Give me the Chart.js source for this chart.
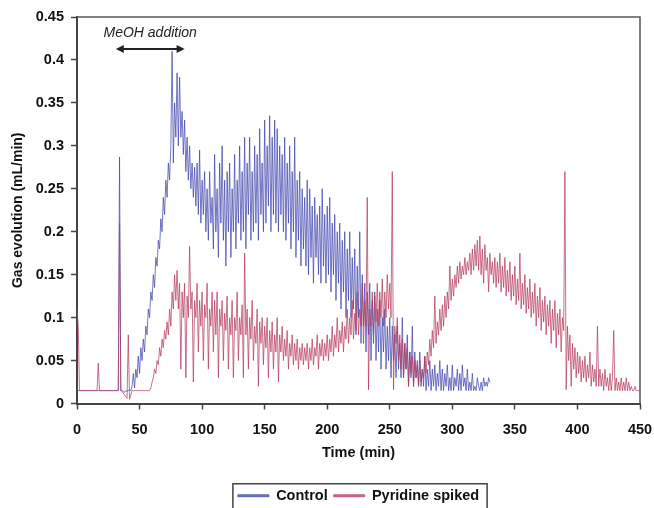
<!DOCTYPE html>
<html>
<head>
<meta charset="utf-8">
<script src="https://cdn.jsdelivr.net/npm/chart.js@4.4.1/dist/chart.umd.min.js"></script>
<style>
html,body{margin:0;padding:0;background:#fff;}
#wrap{width:654px;height:508px;position:relative;overflow:hidden;}
</style>
</head>
<body>
<div id="wrap"><canvas id="c" width="654" height="508"></canvas></div>
<script>
// Sampling: one reading per minute, starting at t = 0 min
const timeStartMin = 0;
const timeStepMin = 1;

const seriesNames = ["Control", "Pyridine spiked"];

// Control gas evolution (mL/min), t = 0..330 min
const controlValues = [
/*0*/   0.015,0.015,0.015,0.015,0.015,0.015,0.015,0.015,0.015,0.015,
/*10*/  0.015,0.015,0.015,0.015,0.015,0.015,0.015,0.015,0.015,0.015,
/*20*/  0.015,0.015,0.015,0.015,0.015,0.015,0.015,0.015,0.015,0.015,
/*30*/  0.015,0.015,0.015,0.015,0.287,0.015,0.015,0.014,0.013,0.015,
/*40*/  0.014,0.015,0.016,0.015,0.02,0.035,0.018,0.04,0.03,0.055,
/*50*/  0.035,0.065,0.05,0.075,0.06,0.09,0.08,0.11,0.1,0.13,
/*60*/  0.12,0.15,0.135,0.17,0.16,0.19,0.18,0.215,0.2,0.24,
/*70*/  0.22,0.26,0.24,0.28,0.26,0.3,0.41,0.28,0.35,0.31,
/*80*/  0.385,0.3,0.38,0.31,0.34,0.29,0.33,0.27,0.31,0.26,
/*90*/  0.3,0.25,0.28,0.24,0.275,0.23,0.28,0.22,0.295,0.21,
/*100*/ 0.26,0.22,0.27,0.2,0.25,0.19,0.27,0.21,0.24,0.18,
/*110*/ 0.29,0.2,0.25,0.17,0.28,0.21,0.3,0.19,0.26,0.16,
/*120*/ 0.27,0.2,0.28,0.17,0.25,0.2,0.29,0.18,0.26,0.21,
/*130*/ 0.3,0.19,0.27,0.2,0.31,0.18,0.28,0.22,0.31,0.19,
/*140*/ 0.27,0.2,0.3,0.21,0.29,0.19,0.32,0.22,0.28,0.2,
/*150*/ 0.33,0.21,0.3,0.23,0.335,0.2,0.31,0.22,0.33,0.21,
/*160*/ 0.32,0.2,0.3,0.22,0.29,0.2,0.31,0.19,0.28,0.21,
/*170*/ 0.3,0.18,0.27,0.2,0.31,0.17,0.26,0.19,0.27,0.16,
/*180*/ 0.25,0.18,0.24,0.16,0.26,0.15,0.25,0.17,0.23,0.14,
/*190*/ 0.24,0.17,0.22,0.15,0.23,0.14,0.25,0.16,0.22,0.14,
/*200*/ 0.23,0.15,0.24,0.13,0.21,0.15,0.22,0.12,0.2,0.14,
/*210*/ 0.21,0.11,0.19,0.13,0.2,0.1,0.18,0.12,0.2,0.1,
/*220*/ 0.17,0.11,0.18,0.08,0.16,0.1,0.2,0.07,0.15,0.09,
/*230*/ 0.14,0.06,0.13,0.08,0.14,0.05,0.12,0.07,0.13,0.05,
/*240*/ 0.11,0.06,0.12,0.04,0.1,0.06,0.11,0.04,0.09,0.05,
/*250*/ 0.1,0.03,0.09,0.05,0.08,0.03,0.09,0.04,0.07,0.03,
/*260*/ 0.1,0.03,0.07,0.04,0.08,0.02,0.06,0.03,0.09,0.02,
/*270*/ 0.06,0.03,0.05,0.02,0.06,0.02,0.04,0.02,0.055,0.015,
/*280*/ 0.04,0.02,0.05,0.015,0.04,0.02,0.045,0.015,0.035,0.02,
/*290*/ 0.05,0.015,0.04,0.015,0.035,0.02,0.045,0.015,0.03,0.015,
/*300*/ 0.045,0.015,0.03,0.02,0.04,0.015,0.035,0.015,0.045,0.02,
/*310*/ 0.03,0.015,0.04,0.015,0.025,0.015,0.035,0.015,0.02,0.015,
/*320*/ 0.03,0.02,0.015,0.025,0.015,0.03,0.02,0.025,0.02,0.03,
/*330*/ 0.025
];

// Pyridine spiked gas evolution (mL/min), t = 0..450 min
const pyridineValues = [
/*0*/   0.11,0.09,0.015,0.015,0.015,0.015,0.015,0.015,0.015,0.015,
/*10*/  0.015,0.015,0.015,0.015,0.015,0.015,0.015,0.047,0.015,0.015,
/*20*/  0.015,0.015,0.015,0.015,0.015,0.015,0.015,0.015,0.015,0.015,
/*30*/  0.015,0.015,0.015,0.015,0.21,0.015,0.014,0.012,0.01,0.008,
/*40*/  0.006,0.08,0.005,0.01,0.015,0.015,0.015,0.015,0.015,0.015,
/*50*/  0.015,0.015,0.015,0.015,0.015,0.015,0.015,0.015,0.015,0.018,
/*60*/  0.025,0.03,0.04,0.035,0.05,0.045,0.065,0.055,0.075,0.065,
/*70*/  0.085,0.075,0.095,0.08,0.11,0.09,0.13,0.11,0.15,0.12,
/*80*/  0.155,0.11,0.14,0.04,0.13,0.1,0.14,0.03,0.125,0.1,
/*90*/  0.183,0.11,0.13,0.025,0.12,0.1,0.14,0.06,0.12,0.09,
/*100*/ 0.13,0.05,0.115,0.1,0.14,0.04,0.11,0.09,0.13,0.06,
/*110*/ 0.12,0.08,0.13,0.03,0.11,0.09,0.12,0.05,0.105,0.085,
/*120*/ 0.125,0.04,0.1,0.08,0.12,0.03,0.1,0.085,0.13,0.05,
/*130*/ 0.1,0.08,0.115,0.03,0.175,0.08,0.11,0.04,0.1,0.075,
/*140*/ 0.12,0.05,0.09,0.07,0.11,0.02,0.095,0.07,0.1,0.045,
/*150*/ 0.09,0.065,0.1,0.03,0.085,0.06,0.095,0.04,0.08,0.06,
/*160*/ 0.1,0.025,0.08,0.06,0.09,0.05,0.075,0.055,0.085,0.04,
/*170*/ 0.07,0.055,0.08,0.045,0.07,0.05,0.075,0.04,0.065,0.05,
/*180*/ 0.07,0.045,0.065,0.05,0.07,0.04,0.065,0.05,0.075,0.045,
/*190*/ 0.065,0.055,0.08,0.04,0.07,0.055,0.075,0.05,0.07,0.055,
/*200*/ 0.08,0.05,0.075,0.06,0.09,0.055,0.08,0.065,0.1,0.06,
/*210*/ 0.085,0.07,0.095,0.06,0.09,0.075,0.11,0.07,0.1,0.08,
/*220*/ 0.12,0.075,0.105,0.085,0.13,0.08,0.11,0.09,0.14,0.07,
/*230*/ 0.12,0.09,0.24,0.016,0.11,0.09,0.13,0.08,0.125,0.095,
/*240*/ 0.14,0.09,0.13,0.1,0.145,0.09,0.13,0.1,0.15,0.11,
/*250*/ 0.14,0.1,0.27,0.016,0.09,0.07,0.1,0.05,0.08,0.04,
/*260*/ 0.075,0.03,0.07,0.04,0.065,0.02,0.06,0.035,0.055,0.02,
/*270*/ 0.05,0.03,0.045,0.02,0.05,0.025,0.04,0.03,0.055,0.035,
/*280*/ 0.06,0.045,0.075,0.055,0.085,0.065,0.125,0.07,0.095,0.08,
/*290*/ 0.11,0.085,0.115,0.09,0.125,0.1,0.13,0.11,0.16,0.12,
/*300*/ 0.145,0.125,0.15,0.135,0.16,0.14,0.165,0.145,0.16,0.15,
/*310*/ 0.17,0.15,0.165,0.155,0.175,0.15,0.18,0.155,0.185,0.16,
/*320*/ 0.19,0.155,0.195,0.15,0.18,0.14,0.185,0.155,0.17,0.13,
/*330*/ 0.175,0.15,0.165,0.14,0.17,0.135,0.165,0.14,0.175,0.13,
/*340*/ 0.16,0.135,0.17,0.125,0.155,0.13,0.165,0.12,0.15,0.125,
/*350*/ 0.16,0.115,0.145,0.12,0.175,0.11,0.14,0.115,0.15,0.105,
/*360*/ 0.135,0.11,0.145,0.1,0.13,0.105,0.14,0.09,0.125,0.1,
/*370*/ 0.135,0.085,0.12,0.095,0.125,0.08,0.115,0.09,0.12,0.07,
/*380*/ 0.11,0.085,0.12,0.065,0.105,0.08,0.11,0.06,0.1,0.085,
/*390*/ 0.27,0.016,0.09,0.05,0.08,0.02,0.07,0.04,0.065,0.03,
/*400*/ 0.06,0.035,0.055,0.025,0.05,0.03,0.055,0.025,0.045,0.03,
/*410*/ 0.06,0.02,0.045,0.025,0.04,0.02,0.09,0.02,0.04,0.02,
/*420*/ 0.035,0.015,0.04,0.02,0.03,0.015,0.035,0.015,0.03,0.085,
/*430*/ 0.015,0.03,0.015,0.025,0.015,0.03,0.015,0.025,0.015,0.03,
/*440*/ 0.015,0.025,0.015,0.02,0.015,0.015,0.02,0.015,0.015,0.015,
/*450*/ 0.015
];

// Annotation: MeOH addition window (min) and label
const meohLabel = "MeOH addition";
const meohStartMin = 31;
const meohEndMin = 86;

const xAxisTitle = "Time (min)";
const yAxisTitle = "Gas evolution (mL/min)";

function toPoints(values) {
  return values.map((v, i) => ({ x: timeStartMin + i * timeStepMin, y: v }));
}

const FONT = "'Liberation Sans', Arial, Helvetica, sans-serif";
const BLUE = "rgba(62,68,172,0.72)";
const RED = "rgba(182,58,92,0.72)";

const framePlugin = {
  id: 'frame',
  afterDatasetsDraw(chart) {
    const { ctx, chartArea: a } = chart;
    ctx.save();
    ctx.strokeStyle = '#555';
    ctx.lineWidth = 1.5;
    ctx.beginPath();
    ctx.moveTo(a.left, a.top);
    ctx.lineTo(a.right, a.top);
    ctx.lineTo(a.right, a.bottom);
    ctx.stroke();
    ctx.restore();
  }
};

const annotationPlugin = {
  id: 'meoh',
  afterDraw(chart) {
    const { ctx } = chart;
    const xs = chart.scales.x, ys = chart.scales.y;
    const x1 = xs.getPixelForValue(meohStartMin);
    const x2 = xs.getPixelForValue(meohEndMin);
    const yArrow = ys.getPixelForValue(0.4128);
    const yText = ys.getPixelForValue(0.4314);
    ctx.save();
    ctx.fillStyle = '#222';
    ctx.strokeStyle = '#222';
    ctx.font = "italic 14px " + FONT;
    ctx.textAlign = 'center';
    ctx.textBaseline = 'middle';
    ctx.fillText(meohLabel, (x1 + x2) / 2, yText);
    const head = 8, hw = 4;
    ctx.lineWidth = 2;
    ctx.beginPath();
    ctx.moveTo(x1 + head - 1, yArrow);
    ctx.lineTo(x2 - head + 1, yArrow);
    ctx.stroke();
    ctx.beginPath();
    ctx.moveTo(x1, yArrow);
    ctx.lineTo(x1 + head, yArrow - hw);
    ctx.lineTo(x1 + head, yArrow + hw);
    ctx.closePath();
    ctx.fill();
    ctx.beginPath();
    ctx.moveTo(x2, yArrow);
    ctx.lineTo(x2 - head, yArrow - hw);
    ctx.lineTo(x2 - head, yArrow + hw);
    ctx.closePath();
    ctx.fill();
    ctx.restore();
  }
};

const legendBoxPlugin = {
  id: 'legendBox',
  afterDraw(chart) {
    const lg = chart.legend;
    if (!lg || !lg.legendHitBoxes || !lg.legendHitBoxes.length) return;
    const hb = lg.legendHitBoxes;
    const first = hb[0], last = hb[hb.length - 1];
    const { ctx } = chart;
    ctx.save();
    ctx.strokeStyle = '#444';
    ctx.lineWidth = 1.5;
    const left = first.left - 5;
    const right = last.left + last.width + 8;
    const top = first.top + first.height / 2 - 12;
    ctx.strokeRect(left, top, right - left, 40);
    ctx.restore();
  }
};

new Chart(document.getElementById('c'), {
  type: 'line',
  data: {
    datasets: [
      {
        label: seriesNames[0],
        data: toPoints(controlValues),
        borderColor: BLUE,
        backgroundColor: BLUE,
        borderWidth: 1,
        pointRadius: 0,
        tension: 0,
        order: 2
      },
      {
        label: seriesNames[1],
        data: toPoints(pyridineValues),
        borderColor: RED,
        backgroundColor: RED,
        borderWidth: 1,
        pointRadius: 0,
        tension: 0,
        order: 1
      }
    ]
  },
  options: {
    responsive: false,
    devicePixelRatio: 1,
    animation: false,
    events: [],
    layout: { padding: { left: 0, top: 17, right: 14, bottom: -5 } },
    plugins: {
      tooltip: { enabled: false },
      legend: {
        display: true,
        position: 'bottom',
        fullSize: false,
        labels: {
          boxWidth: 31,
          boxHeight: 2,
          padding: 6,
          color: '#111',
          font: { family: FONT, size: 14.5, weight: 'bold' },
          sort: (a, b) => a.datasetIndex - b.datasetIndex
        }
      }
    },
    scales: {
      x: {
        type: 'linear',
        min: 0,
        max: 450,
        afterFit(scale) { scale.height = 79; scale.paddingLeft = 0; scale.paddingRight = 0; },
        ticks: {
          stepSize: 50,
          padding: 12,
          color: '#111',
          font: { family: FONT, size: 14.5, weight: 'bold' },
          maxRotation: 0
        },
        grid: { drawOnChartArea: false, drawTicks: true, tickLength: 6, color: '#444', tickWidth: 1.5 },
        border: { display: true, color: '#444', width: 2 },
        title: {
          display: true,
          text: xAxisTitle,
          color: '#111',
          font: { family: FONT, size: 14.5, weight: 'bold' },
          padding: { top: 0, bottom: 21 }
        }
      },
      y: {
        type: 'linear',
        min: 0,
        max: 0.45,
        afterFit(scale) { scale.width = 77; },
        ticks: {
          stepSize: 0.05,
          padding: 7,
          color: '#111',
          font: { family: FONT, size: 14.5, weight: 'bold' },
          callback: (v) => String(+Number(v).toFixed(2))
        },
        grid: { drawOnChartArea: false, drawTicks: true, tickLength: 6, color: '#444', tickWidth: 1.5 },
        border: { display: true, color: '#444', width: 2 },
        title: {
          display: true,
          text: yAxisTitle,
          color: '#111',
          font: { family: FONT, size: 14, weight: 'bold' },
          padding: { top: 10, bottom: 0 }
        }
      }
    }
  },
  plugins: [framePlugin, annotationPlugin, legendBoxPlugin]
});
</script>
</body>
</html>
